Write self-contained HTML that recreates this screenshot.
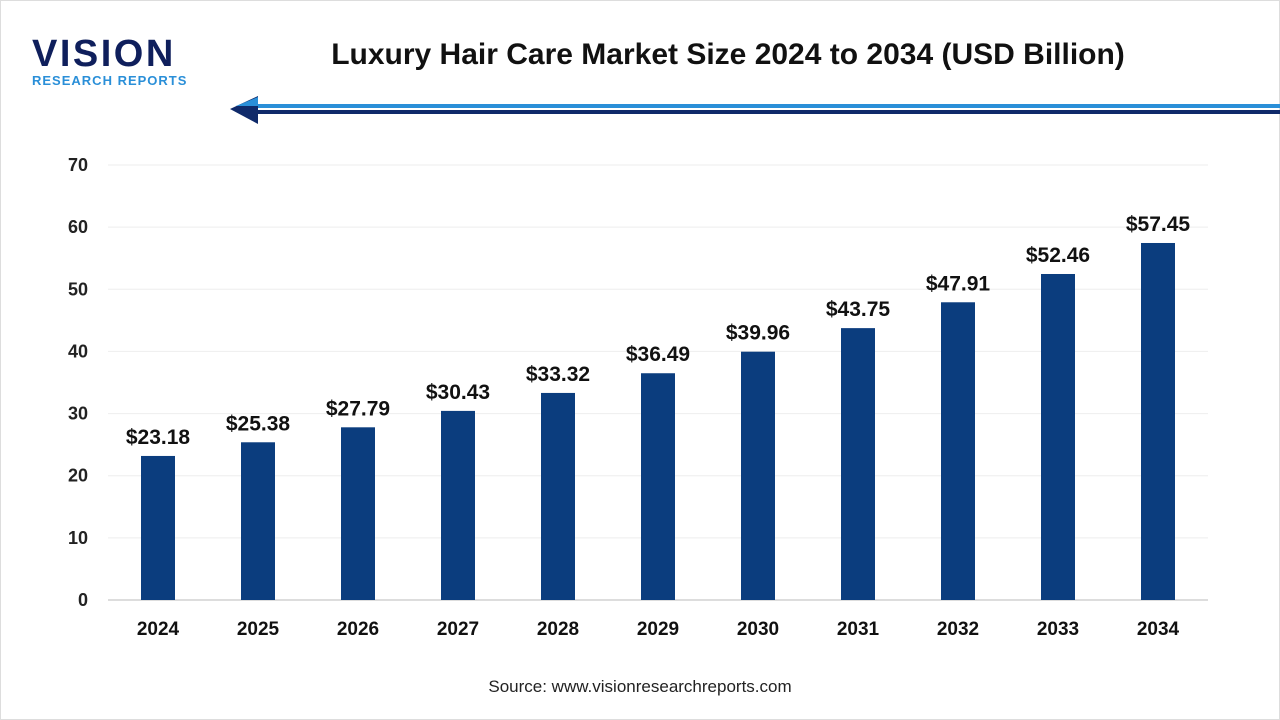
<!DOCTYPE html>
<html><head><meta charset="utf-8"><style>
body{margin:0;width:1280px;height:720px;background:#fff;font-family:"Liberation Sans",sans-serif;overflow:hidden;position:relative}
.frame{position:absolute;left:0;top:0;width:1278px;height:718px;border:1px solid #ddd}
</style></head><body>
<div class="frame"></div>
<svg width="1280" height="720" style="position:absolute;left:0;top:0">
<g>
<text x="32" y="66" font-size="38" font-weight="bold" fill="#0f1f5c" letter-spacing="2.5">VISION</text>
<text x="32" y="85" font-size="13" font-weight="bold" fill="#2a8fd8" letter-spacing="1">RESEARCH REPORTS</text>
</g>
<text x="728" y="64" font-size="30" font-weight="bold" fill="#111" text-anchor="middle">Luxury Hair Care Market Size 2024 to 2034 (USD Billion)</text>
<g>
<rect x="250" y="104" width="1030" height="4" fill="#2a8fd8"/>
<rect x="250" y="110" width="1030" height="4" fill="#0f2a6a"/>
<polygon points="230,109 258,96 258,124" fill="#0f2a6a"/>
<polygon points="236,106 258,97 258,106" fill="#2a8fd8"/>
</g>
<g id="grid"></g><g id="bars"></g>
<text x="640" y="692" font-size="17" fill="#222" text-anchor="middle">Source: www.visionresearchreports.com</text>
</svg>
<script>
const categories=["2024","2025","2026","2027","2028","2029","2030","2031","2032","2033","2034"];
const values=[23.18,25.38,27.79,30.43,33.32,36.49,39.96,43.75,47.91,52.46,57.45];
const yTicks=[0,10,20,30,40,50,60,70];
const NS="http://www.w3.org/2000/svg";
const y=v=>600-v*435/70, x=i=>158+i*100;
const g=document.getElementById('grid'),b=document.getElementById('bars');
function mk(p,t,a,txt){const e=document.createElementNS(NS,t);for(const k in a)e.setAttribute(k,a[k]);if(txt!=null)e.textContent=txt;p.appendChild(e);return e;}
yTicks.forEach(t=>{
 const l=mk(g,'line',{x1:108,x2:1208,y1:y(t),y2:y(t),stroke:t===0?'#bbb':'#eee','stroke-width':1});
 
 
 const tx=mk(g,'text',{x:88,y:y(t)+6,'font-size':18,'font-weight':'bold',fill:'#222','text-anchor':'end'},t);
 
 
});
categories.forEach((c,i)=>{
 const r=mk(b,'rect',{x:x(i)-17,y:y(values[i]),width:34,height:600-y(values[i]),fill:'#0b3d7e'});
 
 
 const v=mk(b,'text',{x:x(i),y:y(values[i])-12,'font-size':21,'font-weight':'bold',fill:'#111','text-anchor':'middle'},'$'+values[i].toFixed(2));
 
 
 const xl=mk(b,'text',{x:x(i),y:635,'font-size':19,'font-weight':'bold',fill:'#111','text-anchor':'middle'},c);
 
 
});
</script>
</body></html>
